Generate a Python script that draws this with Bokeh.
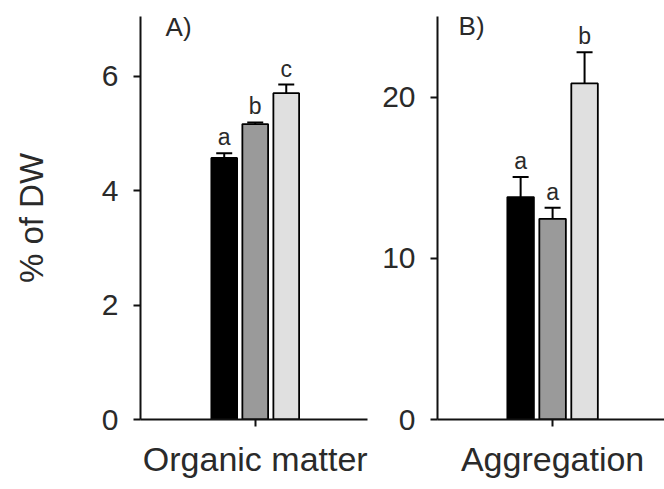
from bokeh.plotting import figure
from bokeh.models import Range1d, FixedTicker, Whisker, TeeHead, ColumnDataSource, Label
from bokeh.layouts import row
from bokeh.embed import file_html
from bokeh.resources import INLINE
from bokeh.core.properties import value

# ---- data ----
treat_pos = [0, 1, 2]
bar_colors = ["#000000", "#9a9a9a", "#e0e0e0"]

om_mean = [4.57, 5.16, 5.70]
om_err = [0.08, 0.03, 0.15]
om_letters = ["a", "b", "c"]
om_ticks = [0, 2, 4, 6]

agg_mean = [13.8, 12.45, 20.85]
agg_err = [1.25, 0.68, 1.93]
agg_letters = ["a", "a", "b"]
agg_ticks = [0, 10, 20]

FONT = "Liberation Sans"
TXT = "#2a2a2a"


def panel(means, errs, letters, ticks, ymax, xr, cat_label, tag, tag_xy,
          width, mb_left, mb_right, ylabel=None):
    p = figure(width=width, height=489, output_backend="svg", toolbar_location=None,
               x_range=Range1d(*xr), y_range=Range1d(0, ymax),
               min_border_left=mb_left, min_border_right=mb_right,
               min_border_top=16, min_border_bottom=70)
    p.outline_line_color = None
    p.grid.visible = False
    p.background_fill_color = "white"

    src = ColumnDataSource(dict(
        x=treat_pos, top=means, color=bar_colors,
        upper=[m + e for m, e in zip(means, errs)], letter=letters))

    p.vbar(x="x", top="top", width=0.83, bottom=0, source=src,
           fill_color="color", line_color="#000000", line_width=1.8)
    wh = Whisker(base="x", lower="top", upper="upper", source=src,
                 dimension="height", line_width=2, line_color="#000000",
                 upper_head=TeeHead(size=16, line_width=2, line_color="#000000"),
                 lower_head=None)
    p.add_layout(wh)
    p.text(x="x", y="upper", text="letter", source=src, text_align="center",
           text_baseline="alphabetic", y_offset=-16, text_font=value(FONT),
           text_font_size="23px", text_color=TXT)

    p.add_layout(Label(x=tag_xy[0], y=tag_xy[1], text=tag, text_font=FONT,
                       text_font_size="26px", text_color=TXT,
                       text_baseline="alphabetic"))

    ya = p.yaxis[0]
    ya.ticker = FixedTicker(ticks=ticks)
    ya.minor_tick_line_color = None
    ya.major_tick_out = 7
    ya.major_tick_in = 0
    ya.major_tick_line_width = 2
    ya.axis_line_width = 2
    ya.axis_line_color = "#111111"
    ya.major_tick_line_color = "#111111"
    ya.major_label_text_font = FONT
    ya.major_label_text_font_size = "30px"
    ya.major_label_text_color = TXT
    ya.major_label_standoff = 15
    if ylabel:
        ya.axis_label = ylabel
        ya.axis_label_text_font = FONT
        ya.axis_label_text_font_size = "33px"
        ya.axis_label_text_font_style = "normal"
        ya.axis_label_text_color = TXT
        ya.axis_label_standoff = 49

    xa = p.xaxis[0]
    xa.ticker = FixedTicker(ticks=[1])
    xa.major_label_overrides = {1: cat_label}
    xa.minor_tick_line_color = None
    xa.major_tick_out = 7
    xa.major_tick_in = 0
    xa.major_tick_line_width = 2
    xa.axis_line_width = 2
    xa.axis_line_color = "#111111"
    xa.major_tick_line_color = "#111111"
    xa.major_label_text_font = FONT
    xa.major_label_text_font_size = "34px"
    xa.major_label_text_color = TXT
    xa.major_label_standoff = 13
    return p


p1 = panel(om_mean, om_err, om_letters, om_ticks, 7.04, (-2.70, 4.62),
           "Organic matter", "A)", (-1.89, 6.86),
           width=370, mb_left=140, mb_right=3, ylabel="% of DW")
p2 = panel(agg_mean, agg_err, agg_letters, agg_ticks, 25.0, (-2.60, 4.50),
           "Aggregation", "B)", (-1.94, 24.4),
           width=294, mb_left=67, mb_right=0)

layout = row(p1, p2)
open("out.html", "w").write(file_html(layout, INLINE))
